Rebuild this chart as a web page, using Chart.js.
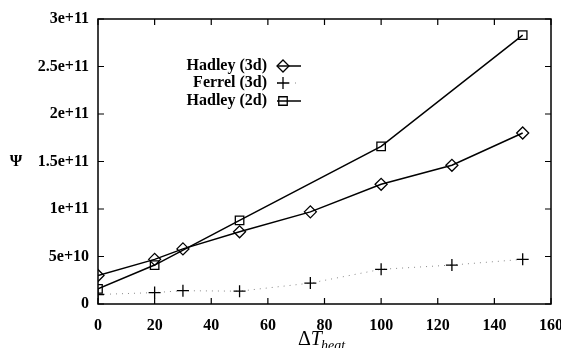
<!DOCTYPE html>
<html>
<head>
<meta charset="utf-8">
<script src="https://cdn.jsdelivr.net/npm/chart.js@4/dist/chart.umd.min.js"></script>
<style>
    html, body { margin: 0; padding: 0; background: #fff; }
    #wrap { width: 561px; height: 348px; }
</style>
</head>
<body>
<div id="wrap"><canvas id="psi-chart"></canvas></div>
<script>
// values (Psi vs Delta T_heat)
const hadley3dX = [0, 20, 30, 50, 75, 100, 125, 150]
const hadley3dY = [3.0e10, 4.7e10, 5.8e10, 7.6e10, 9.7e10, 1.26e11, 1.46e11, 1.80e11]

const ferrel3dX = [0, 20, 30, 50, 75, 100, 125, 150]
const ferrel3dY = [1.0e10, 1.2e10, 1.4e10, 1.35e10, 2.2e10, 3.65e10, 4.1e10, 4.7e10]

const hadley2dX = [0, 20, 50, 100, 150]
const hadley2dY = [1.6e10, 4.1e10, 8.8e10, 1.66e11, 2.83e11]

const xTicks = [0, 20, 40, 60, 80, 100, 120, 140, 160]
const yTicks = [0, 5e10, 1e11, 1.5e11, 2e11, 2.5e11, 3e11]
const yTickLabels = ['0', '5e+10', '1e+11', '1.5e+11', '2e+11', '2.5e+11', '3e+11']

const seriesNames = ['Hadley (3d)', 'Ferrel (3d)', 'Hadley (2d)']

const serif = '"Liberation Serif", "DejaVu Serif", serif'

function toPoints(xs, ys) {
    return xs.map((x, i) => {
        return { x: x, y: ys[i] }
    })
}

// gnuplot style frame: box round the plot with inward ticks on every side
const framePlugin = {
    id: 'frame',
    afterDatasetsDraw(chart) {
        let ctx = chart.ctx
        let area = chart.chartArea
        let xs = chart.scales.x
        let ys = chart.scales.y
        let len = 6

        ctx.save()
        ctx.strokeStyle = '#000'
        ctx.lineWidth = 1.5
        ctx.strokeRect(area.left, area.top, area.right - area.left, area.bottom - area.top)

        ctx.lineWidth = 1.2
        ctx.beginPath()
        xTicks.map((t) => {
            let px = xs.getPixelForValue(t)
            ctx.moveTo(px, area.bottom)
            ctx.lineTo(px, area.bottom - len)
            ctx.moveTo(px, area.top)
            ctx.lineTo(px, area.top + len)
        })
        yTicks.map((t) => {
            let py = ys.getPixelForValue(t)
            ctx.moveTo(area.left, py)
            ctx.lineTo(area.left + len, py)
            ctx.moveTo(area.right, py)
            ctx.lineTo(area.right - len, py)
        })
        ctx.stroke()

        // axis titles
        ctx.fillStyle = '#000'
        ctx.textBaseline = 'middle'
        ctx.textAlign = 'center'
        ctx.font = 'bold 16px ' + serif
        ctx.fillText('\u03A8', 16, 162)

        ctx.textAlign = 'left'
        ctx.textBaseline = 'alphabetic'
        ctx.font = '20px ' + serif
        ctx.fillText('\u0394', 298, 345)
        let x = 298 + ctx.measureText('\u0394').width
        ctx.font = 'italic 20px ' + serif
        ctx.fillText('T', x, 345)
        x += ctx.measureText('T').width - 1
        ctx.font = 'italic 14px ' + serif
        ctx.fillText('heat', x, 350)

        // key, text on the left and sample on the right
        let rows = [66, 83, 101]
        chart.data.datasets.map((ds, i) => {
            let y = rows[i]
            ctx.font = 'bold 16px ' + serif
            ctx.textAlign = 'right'
            ctx.textBaseline = 'middle'
            ctx.fillStyle = '#000'
            ctx.fillText(seriesNames[i], 267, y)

            ctx.strokeStyle = ds.borderColor
            ctx.lineWidth = ds.borderWidth
            ctx.setLineDash(ds.borderDash || [])
            ctx.beginPath()
            ctx.moveTo(277, y)
            ctx.lineTo(301, y)
            ctx.stroke()
            ctx.setLineDash([])

            ctx.strokeStyle = '#000'
            ctx.fillStyle = 'rgba(0,0,0,0)'
            ctx.lineWidth = 1.3
            Chart.helpers.drawPoint(ctx, {
                pointStyle: ds.pointStyle,
                radius: ds.pointRadius,
                rotation: 0,
                borderWidth: 1.3
            }, 283, y)
        })
        ctx.restore()
    }
}

let data = {
    datasets: [{
        label: seriesNames[0],
        data: toPoints(hadley3dX, hadley3dY),
        showLine: true,
        borderColor: '#000',
        borderWidth: 1.5,
        pointStyle: 'rectRot',
        pointRadius: 6,
        pointBorderWidth: 1.3,
        pointBackgroundColor: 'rgba(0,0,0,0)',
        pointBorderColor: '#000',
        fill: false,
        tension: 0
    }, {
        label: seriesNames[1],
        data: toPoints(ferrel3dX, ferrel3dY),
        showLine: true,
        borderColor: '#888',
        borderWidth: 1,
        borderDash: [1, 5],
        pointStyle: 'cross',
        pointRadius: 6,
        pointBorderWidth: 1.3,
        pointBorderColor: '#000',
        fill: false,
        tension: 0
    }, {
        label: seriesNames[2],
        data: toPoints(hadley2dX, hadley2dY),
        showLine: true,
        borderColor: '#000',
        borderWidth: 1.5,
        pointStyle: 'rect',
        pointRadius: 6,
        pointBorderWidth: 1.3,
        pointBackgroundColor: 'rgba(0,0,0,0)',
        pointBorderColor: '#000',
        fill: false,
        tension: 0
    }]
}

let options = {
    responsive: true,
    maintainAspectRatio: false,
    animation: false,
    layout: {
        padding: { left: 0, right: 10, top: 19, bottom: 0 }
    },
    plugins: {
        legend: { display: false },
        tooltip: { enabled: false }
    },
    scales: {
        x: {
            type: 'linear',
            min: 0,
            max: 160,
            afterBuildTicks: (s) => {
                s.ticks = xTicks.map((v) => ({ value: v }))
            },
            afterFit: (s) => {
                s.height = 44
                s.paddingRight = 0
                s.paddingLeft = 0
            },
            grid: { display: false, drawTicks: false },
            border: { display: false },
            ticks: {
                padding: 12,
                maxRotation: 0,
                color: '#000',
                font: { family: serif, size: 16, weight: 'bold' }
            }
        },
        y: {
            type: 'linear',
            min: 0,
            max: 3e11,
            afterBuildTicks: (s) => {
                s.ticks = yTicks.map((v) => ({ value: v }))
            },
            afterFit: (s) => {
                s.width = 98
                s.paddingTop = 0
                s.paddingBottom = 0
            },
            grid: { display: false, drawTicks: false },
            border: { display: false },
            ticks: {
                padding: 9,
                color: '#000',
                font: { family: serif, size: 16, weight: 'bold' },
                callback: (value) => {
                    let i = yTicks.indexOf(value)
                    return i >= 0 ? yTickLabels[i] : ''
                }
            }
        }
    }
}

new Chart(document.getElementById('psi-chart').getContext('2d'), {
    type: 'scatter',
    data: data,
    options: options,
    plugins: [framePlugin]
})
</script>
</body>
</html>
